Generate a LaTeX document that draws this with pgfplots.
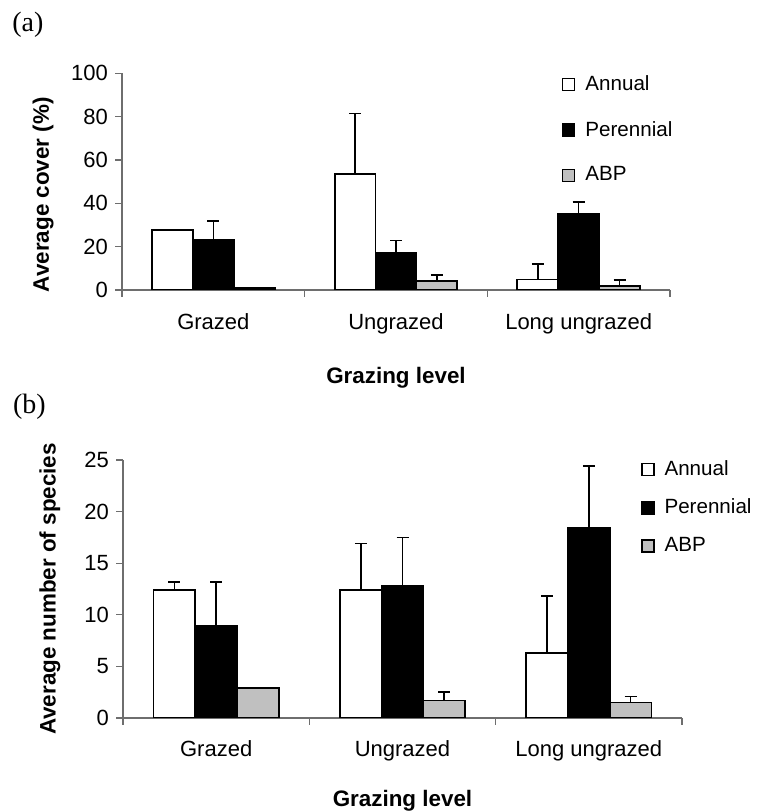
\documentclass[border=0pt]{standalone}
\usepackage{fontspec}
\setmainfont{Liberation Sans}
\newfontfamily\seriffont{Liberation Serif}
\usepackage{pgfplots}
\usepackage{pgfplotstable}
\pgfplotsset{compat=1.18}

\definecolor{abpgray}{RGB}{192,192,192}
\definecolor{axisgray}{RGB}{110,110,110}

\pgfplotstableread{
x a ae p pe b be
0 27.8 0 23.1 8.7 0.8 0
1 53.6 27.8 17.0 5.8 4.2 2.6
2 4.8 7.2 34.9 5.7 1.9 2.8
}\coverdata

\pgfplotstableread{
x a ae p pe b be
0 12.4 0.8 8.9 4.3 2.9 0
1 12.4 4.5 12.8 4.7 1.7 0.8
2 6.3 5.5 18.45 5.95 1.5 0.6
}\speciesdata

\pgfplotsset{
  mystyle/.style={
    scale only axis,
    axis lines*=left,
    axis line style={axisgray, line width=0.6pt},
    xmin=-0.5, xmax=2.5, ymin=0,
    xtick={-0.5,0.5,1.5,2.5}, xticklabels={},
    extra x ticks={0,1,2},
    extra x tick labels={Grazed,Ungrazed,Long ungrazed},
    extra x tick style={major tick length=0pt},
    tick align=outside, major tick length=3.5pt,
    tick style={axisgray, line width=0.6pt},
    /pgf/number format/assume math mode=true,
    tick label style={font=\fontsize{11}{13}\selectfont},
    label style={font=\bfseries\fontsize{11.2}{13}\selectfont},
    xlabel={Grazing level},
    ybar, bar width=0.224,
    error bars/y dir=plus,
    error bars/y explicit,
    error bars/error bar style={line width=0.8pt, black},
    error bars/error mark options={rotate=90, line width=0.8pt, mark size=3pt, black},
    legend cell align=left,
    legend image code/.code={\draw[#1, line width=0.75pt] (0pt,-3pt) rectangle (6pt,3pt);},
  }
}

\begin{document}
\begin{tikzpicture}
\path[use as bounding box] (0pt,0pt) rectangle (378pt,406pt);
\node[anchor=west, inner sep=0pt, font=\seriffont\fontsize{14}{16}\selectfont] at (6pt,393.5pt) {(a)};
\node[anchor=west, inner sep=0pt, font=\seriffont\fontsize{14}{16}\selectfont] at (6.3pt,202.5pt) {(b)};

\begin{axis}[mystyle,
  at={(61pt,261pt)}, anchor=south west,
  width=274pt, height=108.3pt,
  ymax=100, ytick={0,20,40,60,80,100},
  ylabel={Average cover (\%)},
  ylabel style={at={(axis description cs:-0.144,0.44)}, anchor=center},
  xlabel style={at={(axis description cs:0.5,0)}, anchor=base, yshift=-47pt},
  extra x tick style={xticklabel style={anchor=base, yshift=-20pt}},
  legend style={draw=none, fill=none, at={(rel axis cs:0.802,1.01)}, anchor=north west,
    row sep=9.8pt, inner sep=0pt, font=\fontsize{10.3}{12}\selectfont,
    /tikz/every odd column/.append style={column sep=3pt}},
]
\addplot[fill=white, draw=black, line width=0.9pt, bar shift=-0.224] table[x=x, y=a, y error=ae] {\coverdata};
\addplot[fill=black, draw=black, line width=0.9pt, bar shift=0] table[x=x, y=p, y error=pe] {\coverdata};
\addplot[fill=abpgray, draw=black, line width=0.9pt, bar shift=0.224] table[x=x, y=b, y error=be] {\coverdata};
\legend{Annual,Perennial,ABP}
\end{axis}

\begin{axis}[mystyle,
  at={(61.5pt,47pt)}, anchor=south west,
  width=279.5pt, height=129pt,
  ymax=25, ytick={0,5,10,15,20,25},
  ylabel={Average number of species},
  ylabel style={at={(axis description cs:-0.131,0.5)}, anchor=center},
  xlabel style={at={(axis description cs:0.5,0)}, anchor=base, yshift=-44.5pt},
  extra x tick style={xticklabel style={anchor=base, yshift=-19.5pt}},
  legend style={draw=none, fill=none, at={(rel axis cs:0.926,1.015)}, anchor=north west,
    row sep=6.2pt, inner sep=0pt, font=\fontsize{10.3}{12}\selectfont,
    /tikz/every odd column/.append style={column sep=3pt}},
]
\addplot[fill=white, draw=black, line width=0.9pt, bar shift=-0.224] table[x=x, y=a, y error=ae] {\speciesdata};
\addplot[fill=black, draw=black, line width=0.9pt, bar shift=0] table[x=x, y=p, y error=pe] {\speciesdata};
\addplot[fill=abpgray, draw=black, line width=0.9pt, bar shift=0.224] table[x=x, y=b, y error=be] {\speciesdata};
\legend{Annual,Perennial,ABP}
\end{axis}
\end{tikzpicture}
\end{document}
